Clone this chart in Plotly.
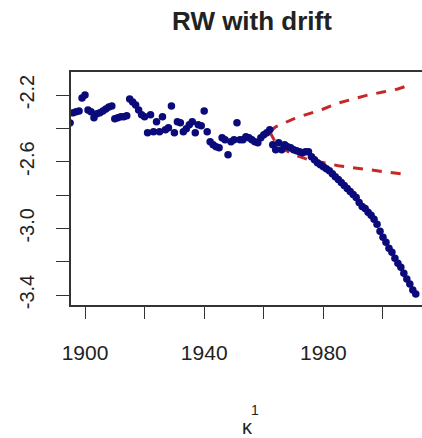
import plotly.graph_objects as go

years = list(range(1895, 2012))
kappa = [-2.367, -2.307, -2.301, -2.296, -2.218, -2.200, -2.290, -2.301, -2.337, -2.313,
         -2.307, -2.296, -2.284, -2.272, -2.266, -2.343, -2.337, -2.331, -2.331, -2.325,
         -2.224, -2.242, -2.260, -2.290, -2.319, -2.331, -2.427, -2.319, -2.421, -2.361,
         -2.421, -2.331, -2.409, -2.397, -2.266, -2.427, -2.361, -2.367, -2.421, -2.403,
         -2.379, -2.361, -2.427, -2.379, -2.385, -2.296, -2.421, -2.481, -2.499, -2.510,
         -2.516, -2.457, -2.469, -2.558, -2.481, -2.469, -2.367, -2.469, -2.469, -2.451,
         -2.457, -2.469, -2.481, -2.487, -2.457, -2.439, -2.427, -2.409, -2.499, -2.528,
         -2.487, -2.528, -2.499, -2.510, -2.516, -2.528, -2.534, -2.540, -2.546, -2.540,
         -2.540, -2.570, -2.588, -2.606, -2.618, -2.630, -2.642, -2.654, -2.672, -2.690,
         -2.707, -2.725, -2.743, -2.761, -2.779, -2.797, -2.815, -2.845, -2.869, -2.881,
         -2.904, -2.922, -2.946, -2.976, -3.018, -3.054, -3.084, -3.119, -3.143, -3.179,
         -3.209, -3.233, -3.269, -3.304, -3.334, -3.370, -3.394]

fc_years = [1962, 1964, 1967, 1970, 1975, 1980, 1985, 1990, 1995, 2000, 2005, 2008]
upper = [-2.421, -2.391, -2.367, -2.343, -2.313, -2.284, -2.248, -2.224, -2.200, -2.182, -2.164, -2.146]
lower = [-2.421, -2.487, -2.528, -2.558, -2.588, -2.606, -2.624, -2.636, -2.648, -2.660, -2.672, -2.678]

y_ticks = [-2.2, -2.4, -2.6, -2.8, -3.0, -3.2, -3.4]
y_ticktext = ["-2.2", "", "-2.6", "", "-3.0", "", "-3.4"]
x_ticks = [1900, 1920, 1940, 1960, 1980, 2000]
x_ticktext = ["1900", "", "1940", "", "1980", ""]

RED = "#c62828"
fig = go.Figure()
fig.add_trace(go.Scatter(x=fc_years, y=upper, mode="lines",
                         line=dict(color=RED, width=3, dash="10px,9px"), hoverinfo="skip"))
fig.add_trace(go.Scatter(x=fc_years, y=lower, mode="lines",
                         line=dict(color=RED, width=3, dash="10px,9px"), hoverinfo="skip"))
fig.add_trace(go.Scatter(x=years, y=kappa, mode="markers",
                         marker=dict(color="#0a0a7a", size=7.5, line=dict(width=0)), cliponaxis=True))

font_family = "Liberation Sans, Arial, sans-serif"
fig.update_layout(
    width=422, height=438,
    margin=dict(l=71, r=0, t=72, b=133),
    paper_bgcolor="white", plot_bgcolor="white",
    showlegend=False,
    font=dict(family=font_family, color="#222222"),
    title=dict(text="<b>RW with drift</b>", x=252/422, xref="container", xanchor="center",
               y=1 - 21/438, yref="container", yanchor="middle",
               font=dict(size=26, color="#222222", family=font_family)),
    xaxis=dict(range=[1895.3, 2013.09], tickvals=x_ticks, ticktext=x_ticktext,
               showgrid=False, zeroline=False, showline=True, linecolor="#333333", linewidth=1.5,
               mirror=True, ticks="outside", ticklen=12, tickwidth=1.3, tickcolor="#333333",
               tickfont=dict(size=21, color="#222222"), ticklabelstandoff=16),
    yaxis=dict(range=[-3.460, -2.062], tickvals=y_ticks, ticktext=y_ticktext,
               showgrid=False, zeroline=False, showline=True, linecolor="#333333", linewidth=1.5,
               mirror=False, ticks="outside", ticklen=13, tickwidth=1.3, tickcolor="#333333",
               tickangle=-90, tickfont=dict(size=20, color="#222222"), ticklabelstandoff=14),
)
fig.add_annotation(text="κ", xref="paper", yref="paper",
                   x=(247 - 71) / 351, y=-(427 - 305) / 233, xanchor="center", yanchor="middle",
                   showarrow=False, font=dict(size=20, color="#222222", family=font_family))
fig.add_annotation(text="1", xref="paper", yref="paper",
                   x=(255 - 71) / 351, y=-(410 - 305) / 233, xanchor="center", yanchor="middle",
                   showarrow=False, font=dict(size=14, color="#222222", family=font_family))

fig.write_html("out.html")
